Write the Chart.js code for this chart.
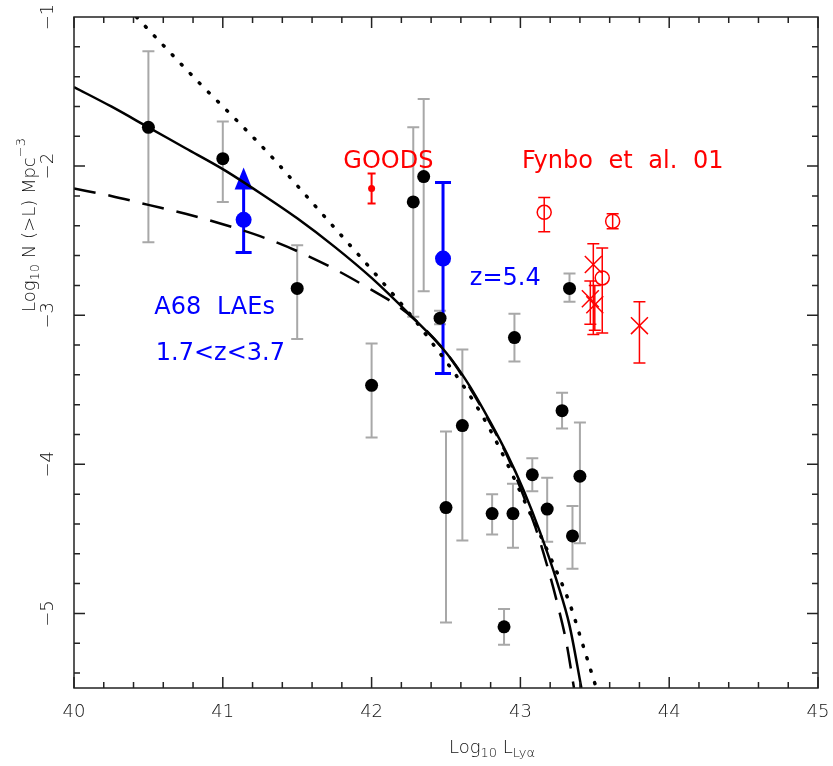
<!DOCTYPE html>
<html>
<head>
<meta charset="utf-8">
<script src="https://cdn.jsdelivr.net/npm/chart.js@4.4.1/dist/chart.umd.min.js"></script>
<style>
  body { margin: 0; background: #fff; }
</style>
</head>
<body>
<canvas id="chart-lf" width="833" height="766"></canvas>
<script>
// Points noirs (echantillon principal) + barres d'erreur
const blackX  = [40.50, 41.00, 41.50, 42.00, 42.28, 42.35, 42.46, 42.50, 42.61, 42.81, 42.89, 42.95, 42.96, 43.08, 43.18, 43.28, 43.33, 43.35, 43.40];
const blackY  = [-1.74, -1.95, -2.82, -3.47, -2.24, -2.07, -3.02, -4.29, -3.74, -4.33, -5.09, -4.33, -3.15, -4.07, -4.30, -3.64, -2.82, -4.48, -4.08];
const blackHi = [-1.23, -1.70, -2.53, -3.19, -1.74, -1.55, -2.97, -3.78, -3.23, -4.20, -4.97, -4.13, -2.99, -3.96, -4.09, -3.52, -2.72, -4.28, -3.72];
const blackLo = [-2.51, -2.24, -3.16, -3.82, -3.01, -2.84, -3.06, -5.06, -4.51, -4.47, -5.21, -4.56, -3.31, -4.18, -4.52, -3.76, -2.91, -4.70, -4.53];

// A68 LAEs (bleu) ; le premier est une limite inferieure (fleche)
const blueX  = [41.14, 42.48];
const blueY  = [-2.36, -2.62];
const blueHi = [-2.01, -2.11];
const blueLo = [-2.58, -3.39];

// GOODS
const goodsX  = [42.00];
const goodsY  = [-2.15];
const goodsHi = [-2.05];
const goodsLo = [-2.25];

// Fynbo et al. 01 : cercles et croix
const fynCircX  = [43.16, 43.62, 43.55];
const fynCircY  = [-2.31, -2.37, -2.75];
const fynCircHi = [-2.21, -2.32, -2.55];
const fynCircLo = [-2.44, -2.42, -3.12];
const fynCrossX  = [43.49, 43.47, 43.50, 43.80];
const fynCrossY  = [-2.66, -2.89, -2.93, -3.07];
const fynCrossHi = [-2.52, -2.77, -2.80, -2.91];
const fynCrossLo = [-3.13, -3.06, -3.10, -3.32];

// Courbes
const solidX = [40.00, 40.25, 40.50, 40.75, 41.00, 41.25, 41.50, 41.75, 42.00, 42.25, 42.50, 42.65, 42.80, 42.91, 43.02, 43.13, 43.25, 43.33, 43.41];
const solidY = [-1.47, -1.60, -1.74, -1.88, -2.02, -2.18, -2.35, -2.54, -2.75, -2.99, -3.25, -3.46, -3.72, -3.93, -4.17, -4.45, -4.80, -5.08, -5.50];
const dashX = [40.00, 40.25, 40.50, 40.75, 41.00, 41.25, 41.50, 41.75, 42.00, 42.15, 42.28, 42.50, 42.65, 42.80, 42.91, 43.02, 43.10, 43.18, 43.25, 43.31, 43.36];
const dashY = [-2.15, -2.20, -2.26, -2.32, -2.39, -2.47, -2.57, -2.69, -2.83, -2.92, -3.02, -3.25, -3.47, -3.73, -3.94, -4.21, -4.42, -4.68, -4.94, -5.20, -5.50];
const dotX = [40.42, 40.60, 40.84, 41.10, 41.34, 41.57, 41.81, 42.04, 42.28, 42.41, 42.58, 42.73, 42.86, 43.08, 43.20, 43.33, 43.41, 43.51];
const dotY = [-1.00, -1.19, -1.44, -1.70, -1.95, -2.21, -2.48, -2.74, -3.02, -3.19, -3.42, -3.65, -3.89, -4.36, -4.62, -4.93, -5.18, -5.50];

// Axes
const xTicks = [40, 41, 42, 43, 44, 45];
const yTicks = [-1, -2, -3, -4, -5];

const pts = (xs, ys) => xs.map((x, i) => ({ x: x, y: ys[i] }));

const BLUE = '#0000ff';
const RED = '#ff0000';
const GRAY = '#a8a8a8';
const FONT = '"DejaVu Sans", sans-serif';

function vbar(ctx, sx, sy, x, hi, lo, cap, capHi, capLo) {
    const px = sx.getPixelForValue(x);
    const yh = sy.getPixelForValue(hi);
    const yl = sy.getPixelForValue(lo);
    ctx.beginPath();
    ctx.moveTo(px, yh); ctx.lineTo(px, yl);
    if (capHi) { ctx.moveTo(px - cap, yh); ctx.lineTo(px + cap, yh); }
    if (capLo) { ctx.moveTo(px - cap, yl); ctx.lineTo(px + cap, yl); }
    ctx.stroke();
}

// Barres d'erreur, sous les points
const errorBars = {
    id: 'errorBars',
    beforeDatasetsDraw(chart) {
        const ctx = chart.ctx, sx = chart.scales.x, sy = chart.scales.y;
        ctx.save();
        ctx.lineCap = 'butt';

        ctx.strokeStyle = GRAY; ctx.lineWidth = 2;
        blackX.forEach((x, i) => vbar(ctx, sx, sy, x, blackHi[i], blackLo[i], 6, true, true));

        ctx.strokeStyle = RED; ctx.lineWidth = 1.5;
        fynCircX.forEach((x, i) => vbar(ctx, sx, sy, x, fynCircHi[i], fynCircLo[i], 6, true, true));
        fynCrossX.forEach((x, i) => vbar(ctx, sx, sy, x, fynCrossHi[i], fynCrossLo[i], 6, true, true));
        ctx.lineWidth = 2;
        goodsX.forEach((x, i) => vbar(ctx, sx, sy, x, goodsHi[i], goodsLo[i], 4, true, true));

        ctx.strokeStyle = BLUE; ctx.fillStyle = BLUE; ctx.lineWidth = 3;
        // limite inferieure : fleche vers le haut
        const ax = sx.getPixelForValue(blueX[0]);
        const tip = sy.getPixelForValue(blueHi[0]);
        vbar(ctx, sx, sy, blueX[0], blueY[0], blueLo[0], 8, false, true);
        ctx.beginPath();
        ctx.moveTo(ax, sy.getPixelForValue(blueY[0]));
        ctx.lineTo(ax, tip + 18);
        ctx.stroke();
        ctx.beginPath();
        ctx.moveTo(ax, tip); ctx.lineTo(ax - 9, tip + 22); ctx.lineTo(ax + 9, tip + 22);
        ctx.closePath(); ctx.fill();
        vbar(ctx, sx, sy, blueX[1], blueHi[1], blueLo[1], 8, true, true);
        ctx.restore();
    }
};

function richText(ctx, parts, x, y, rot, align) {
    // parts : [texte, taille, decalage vertical]
    ctx.save();
    ctx.translate(x, y);
    ctx.rotate(rot);
    let w = 0;
    parts.forEach(p => { ctx.font = '200 ' + p[1] + 'px ' + FONT; w += ctx.measureText(p[0]).width; });
    let cx = align === 'center' ? -w / 2 : 0;
    ctx.textBaseline = 'middle';
    ctx.textAlign = 'left';
    parts.forEach(p => {
        ctx.font = '200 ' + p[1] + 'px ' + FONT;
        ctx.fillText(p[0], cx, p[2]);
        cx += ctx.measureText(p[0]).width;
    });
    ctx.restore();
}

// Cadre, graduations, etiquettes et annotations
const frame = {
    id: 'frame',
    afterDraw(chart) {
        const ctx = chart.ctx, a = chart.chartArea, sx = chart.scales.x, sy = chart.scales.y;
        ctx.save();
        ctx.strokeStyle = '#222'; ctx.lineWidth = 1.5;
        ctx.strokeRect(a.left, a.top, a.right - a.left, a.bottom - a.top);

        ctx.beginPath();
        for (let v = 40; v <= 45.001; v += 0.2) {
            const p = sx.getPixelForValue(v);
            const len = Math.abs(v - Math.round(v)) < 0.01 ? 11 : 6;
            ctx.moveTo(p, a.bottom); ctx.lineTo(p, a.bottom - len);
            ctx.moveTo(p, a.top); ctx.lineTo(p, a.top + len);
        }
        for (let v = -5.4; v <= -1.001; v += 0.2) {
            const p = sy.getPixelForValue(v);
            const len = Math.abs(v - Math.round(v)) < 0.01 ? 11 : 6;
            ctx.moveTo(a.left, p); ctx.lineTo(a.left + len, p);
            ctx.moveTo(a.right, p); ctx.lineTo(a.right - len, p);
        }
        ctx.stroke();

        ctx.fillStyle = '#111';
        ctx.font = '200 18px ' + FONT;
        ctx.textAlign = 'center';
        ctx.textBaseline = 'middle';
        xTicks.forEach(v => ctx.fillText(String(v), sx.getPixelForValue(v), a.bottom + 24));
        yTicks.forEach(v => {
            ctx.save();
            ctx.translate(a.left - 26, sy.getPixelForValue(v));
            ctx.rotate(-Math.PI / 2);
            ctx.fillText('\u2212' + Math.abs(v), 0, 0);
            ctx.restore();
        });

        richText(ctx, [['Log', 18, 0], ['10', 13, 6], [' L', 18, 0], ['Ly\u03b1', 13, 6]],
            (a.left + a.right) / 2 + 46, a.bottom + 60, 0, 'center');
        richText(ctx, [['Log', 18, 0], ['10', 13, 6], [' N (>L) Mpc', 18, 0], ['\u22123', 13, -8]],
            30, 225, -Math.PI / 2, 'center');

        ctx.textAlign = 'left';
        ctx.textBaseline = 'alphabetic';
        ctx.font = '24px ' + FONT;
        try { ctx.wordSpacing = '8px'; } catch (e) {}
        ctx.fillStyle = RED;
        ctx.fillText('GOODS', sx.getPixelForValue(41.81), sy.getPixelForValue(-2.01));
        ctx.fillText('Fynbo et al. 01', sx.getPixelForValue(43.01), sy.getPixelForValue(-2.01));
        ctx.fillStyle = BLUE;
        ctx.fillText('A68 LAEs', sx.getPixelForValue(40.54), sy.getPixelForValue(-2.99));
        ctx.fillText('1.7<z<3.7', sx.getPixelForValue(40.55), sy.getPixelForValue(-3.30));
        ctx.fillText('z=5.4', sx.getPixelForValue(42.66), sy.getPixelForValue(-2.80));
        ctx.restore();
    }
};

const curve = (xs, ys, dash, width) => ({
    type: 'line',
    showLine: true,
    data: pts(xs, ys),
    borderColor: '#000',
    borderWidth: width,
    borderDash: dash,
    borderCapStyle: dash.length && dash[0] < 5 ? 'round' : 'butt',
    pointRadius: 0,
    cubicInterpolationMode: 'monotone',
    fill: false,
    order: 5
});

const chart = new Chart(document.getElementById('chart-lf').getContext('2d'), {
    type: 'scatter',
    data: {
        datasets: [
            curve(solidX, solidY, [], 2.5),
            curve(dashX, dashY, [22, 13], 2.5),
            curve(dotX, dotY, [1, 12], 3.5),
            { data: pts(blackX, blackY), pointRadius: 6.5, backgroundColor: '#000', borderWidth: 0, order: 1 },
            { data: pts(blueX, blueY), pointRadius: 8, backgroundColor: BLUE, borderWidth: 0, order: 1 },
            { data: pts(goodsX, goodsY), pointRadius: 3.5, backgroundColor: RED, borderWidth: 0, order: 1 },
            { data: pts(fynCircX, fynCircY), pointRadius: 7, pointStyle: 'circle', backgroundColor: 'rgba(0,0,0,0)', borderColor: RED, borderWidth: 1.5, order: 1 },
            { data: pts(fynCrossX, fynCrossY), pointRadius: 12, pointStyle: 'crossRot', borderColor: RED, borderWidth: 1.5, order: 1 }
        ]
    },
    options: {
        responsive: false,
        animation: false,
        devicePixelRatio: 1,
        layout: { padding: { left: 74, right: 15, top: 17, bottom: 78 } },
        plugins: { legend: { display: false }, tooltip: { enabled: false } },
        scales: {
            x: { type: 'linear', min: 40, max: 45, display: false },
            y: { type: 'linear', min: -5.5, max: -1, display: false }
        }
    },
    plugins: [errorBars, frame]
});
</script>
</body>
</html>
